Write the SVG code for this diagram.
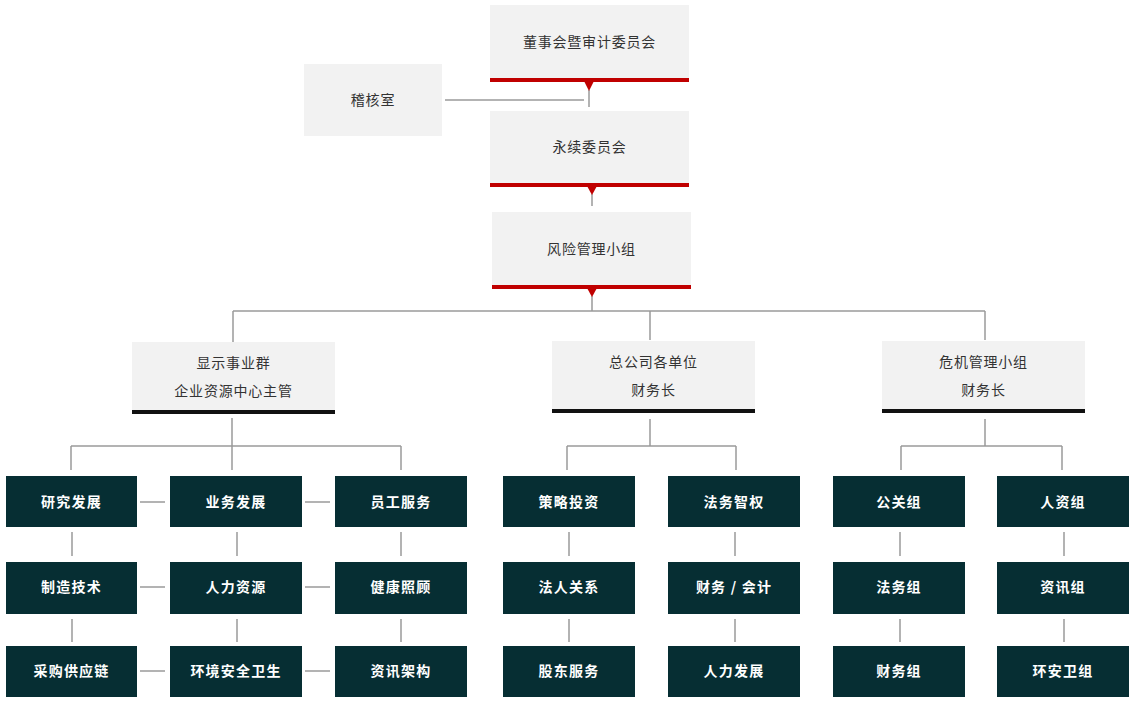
<svg xmlns="http://www.w3.org/2000/svg" width="1135" height="702" viewBox="0 0 1135 702">
<style>
.g{fill:#f2f2f2}
.red{fill:#c00000}
.blk{fill:#111111}
.d{fill:#062e33}
.tg{font-family:"Noto Sans CJK SC","Liberation Sans",sans-serif;font-size:14px;fill:#333333;text-anchor:middle;letter-spacing:0.8px}
.tw{font-family:"Noto Sans CJK SC","Liberation Sans",sans-serif;font-size:14px;font-weight:bold;fill:#ffffff;text-anchor:middle;letter-spacing:1.2px}
.c{stroke:#9a9a9a;stroke-width:1.5;fill:none}
</style>
<g id="connectors">
<path class="c" d="M445 100H584"/>
<path class="c" d="M589 90V107"/>
<path class="c" d="M592 194V206"/>
<path class="c" d="M592 296V311M233 311H985M233 311V342M650 311V340M985 311V340"/>
<path class="c" d="M232 418V446M71 446H401M71 446V470M232 446V470M401 446V470"/>
<path class="c" d="M140 502H165M305 502H330M140 587H165M305 587H330M140 671H165M305 671H330"/>
<path class="c" d="M72 532V556M72 619V642M237 532V556M237 619V642M401 532V556M401 619V642"/>
<path class="c" d="M650 419V446M567 446H736M567 446V470M736 446V470"/>
<path class="c" d="M569 532V556M569 619V642M735 532V556M735 619V642"/>
<path class="c" d="M985 419V446M901 446H1062M901 446V470M1062 446V470"/>
<path class="c" d="M900 532V556M900 619V642M1064 532V556M1064 619V642"/>
</g>
<g id="n-board">
<rect class="g" x="490" y="5" width="199" height="74"/>
<rect class="red" x="490" y="78" width="199" height="4"/>
<path class="red" d="M584 81H594L589 91Z"/>
<text class="tg" x="589.5" y="47">董事会暨审计委员会</text>
</g>
<g id="n-audit">
<rect class="g" x="304" y="64" width="138" height="72"/>
<text class="tg" x="373" y="105">稽核室</text>
</g>
<g id="n-sustain">
<rect class="g" x="490" y="111" width="199" height="73"/>
<rect class="red" x="490" y="183" width="199" height="4"/>
<path class="red" d="M587 186H597L592 195Z"/>
<text class="tg" x="589.5" y="152">永续委员会</text>
</g>
<g id="n-risk">
<rect class="g" x="492" y="212" width="199" height="74"/>
<rect class="red" x="492" y="285" width="199" height="4"/>
<path class="red" d="M587 288H597L592 297Z"/>
<text class="tg" x="591.5" y="254">风险管理小组</text>
</g>
<g id="n-display">
<rect class="g" x="132" y="342" width="203" height="70"/>
<rect class="blk" x="132" y="410" width="203" height="4"/>
<text class="tg" x="233.5" y="368">显示事业群</text>
<text class="tg" x="233.5" y="396">企业资源中心主管</text>
</g>
<g id="n-hq">
<rect class="g" x="552" y="341" width="203" height="70"/>
<rect class="blk" x="552" y="409" width="203" height="4"/>
<text class="tg" x="653.5" y="367">总公司各单位</text>
<text class="tg" x="653.5" y="395">财务长</text>
</g>
<g id="n-crisis">
<rect class="g" x="882" y="341" width="203" height="70"/>
<rect class="blk" x="882" y="409" width="203" height="4"/>
<text class="tg" x="983.5" y="367">危机管理小组</text>
<text class="tg" x="983.5" y="395">财务长</text>
</g>
<g id="n-rd"><rect class="d" x="6" y="476" width="131" height="51"/><text class="tw" x="71.5" y="507">研究发展</text></g>
<g id="n-bd"><rect class="d" x="170" y="476" width="132" height="51"/><text class="tw" x="236" y="507">业务发展</text></g>
<g id="n-es"><rect class="d" x="335" y="476" width="132" height="51"/><text class="tw" x="401" y="507">员工服务</text></g>
<g id="n-mt"><rect class="d" x="6" y="562" width="131" height="52"/><text class="tw" x="71.5" y="592">制造技术</text></g>
<g id="n-hr"><rect class="d" x="170" y="562" width="132" height="52"/><text class="tw" x="236" y="592">人力资源</text></g>
<g id="n-hc"><rect class="d" x="335" y="562" width="132" height="52"/><text class="tw" x="401" y="592">健康照顾</text></g>
<g id="n-sc"><rect class="d" x="6" y="646" width="131" height="51"/><text class="tw" x="71.5" y="676">采购供应链</text></g>
<g id="n-ehs"><rect class="d" x="170" y="646" width="132" height="51"/><text class="tw" x="236" y="676">环境安全卫生</text></g>
<g id="n-it"><rect class="d" x="335" y="646" width="132" height="51"/><text class="tw" x="401" y="676">资讯架构</text></g>
<g id="n-si"><rect class="d" x="503" y="476" width="132" height="51"/><text class="tw" x="569" y="507">策略投资</text></g>
<g id="n-ip"><rect class="d" x="668" y="476" width="132" height="51"/><text class="tw" x="734" y="507">法务智权</text></g>
<g id="n-ir"><rect class="d" x="503" y="562" width="132" height="52"/><text class="tw" x="569" y="592">法人关系</text></g>
<g id="n-fa"><rect class="d" x="668" y="562" width="132" height="52"/><text class="tw" x="734" y="592">财务 / 会计</text></g>
<g id="n-ss"><rect class="d" x="503" y="646" width="132" height="51"/><text class="tw" x="569" y="676">股东服务</text></g>
<g id="n-hd"><rect class="d" x="668" y="646" width="132" height="51"/><text class="tw" x="734" y="676">人力发展</text></g>
<g id="n-pr"><rect class="d" x="833" y="476" width="132" height="51"/><text class="tw" x="899" y="507">公关组</text></g>
<g id="n-hrg"><rect class="d" x="997" y="476" width="132" height="51"/><text class="tw" x="1063" y="507">人资组</text></g>
<g id="n-lg"><rect class="d" x="833" y="562" width="132" height="52"/><text class="tw" x="899" y="592">法务组</text></g>
<g id="n-itg"><rect class="d" x="997" y="562" width="132" height="52"/><text class="tw" x="1063" y="592">资讯组</text></g>
<g id="n-fg"><rect class="d" x="833" y="646" width="132" height="51"/><text class="tw" x="899" y="676">财务组</text></g>
<g id="n-eg"><rect class="d" x="997" y="646" width="132" height="51"/><text class="tw" x="1063" y="676">环安卫组</text></g>
</svg>
